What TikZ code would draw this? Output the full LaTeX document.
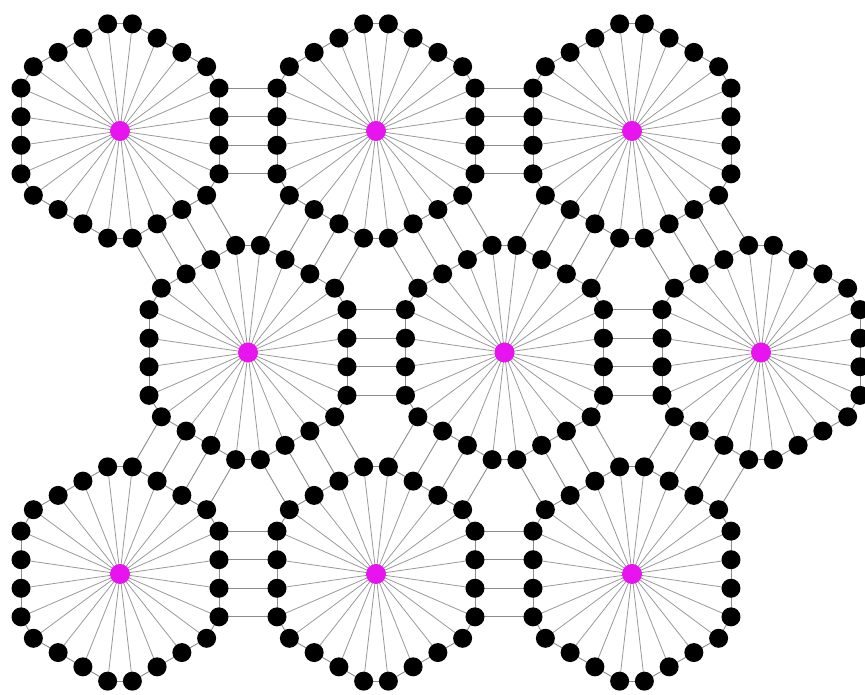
\documentclass[tikz,border=0pt]{standalone}
\pgfdeclarelayer{bg}
\pgfsetlayers{bg,main}
\definecolor{hubcol}{RGB}{232,20,240}
\begin{document}
\begin{tikzpicture}[x=1pt,y=1pt,
  dot/.style={circle,fill=black,draw=none,inner sep=0pt,minimum size=19pt},
  hub/.style={circle,fill=hubcol,draw=none,inner sep=0pt,minimum size=20pt},
  spoke/.style={draw=black!40,line width=0.8pt},
  ring/.style={draw=black!45,line width=0.9pt},
  link/.style={draw=black!45,line width=0.9pt}]
\useasboundingbox (0,0) rectangle (865,695);
\clip (0,0) rectangle (865,695);
\def\Rh{114.3}
% wheels
\foreach \w/\cx/\cy in {1/120/564, 2/376/564, 3/632/564,
                        4/248/342.5, 5/504.5/342.5, 6/761/342.5,
                        7/120/121, 8/376/121, 9/632/121} {
  \node[hub] (w\w c) at (\cx,\cy) {};
  \foreach \k in {0,...,23} {
    \pgfmathtruncatemacro\j{div(\k,4)}
    \pgfmathsetmacro\t{(mod(\k,4)+0.5)/4}
    \pgfmathsetmacro\px{\cx+\Rh*((1-\t)*cos(90+60*\j)+\t*cos(150+60*\j))}
    \pgfmathsetmacro\py{\cy+\Rh*((1-\t)*sin(90+60*\j)+\t*sin(150+60*\j))}
    \node[dot] (w\w n\k) at (\px,\py) {};
  }
  \begin{pgfonlayer}{bg}
    \foreach \k in {0,...,23} {
      \pgfmathtruncatemacro\nx{mod(\k+1,24)}
      \draw[spoke] (w\w c.center) -- (w\w n\k.center);
      \draw[ring] (w\w n\k.center) -- (w\w n\nx.center);
    }
  \end{pgfonlayer}
}
% links between neighbouring wheels
\begin{pgfonlayer}{bg}
\foreach \a/\b/\j in {1/2/4, 2/3/4, 4/5/4, 5/6/4, 7/8/4, 8/9/4,
                      1/4/3, 2/5/3, 3/6/3, 4/8/3, 5/9/3,
                      2/4/2, 3/5/2, 4/7/2, 5/8/2, 6/9/2} {
  \foreach \m in {0,...,3} {
    \pgfmathtruncatemacro\ka{4*\j+\m}
    \pgfmathtruncatemacro\kb{4*mod(\j+3,6)+3-\m}
    \draw[link] (w\a n\ka.center) -- (w\b n\kb.center);
  }
}
\end{pgfonlayer}
\end{tikzpicture}
\end{document}
